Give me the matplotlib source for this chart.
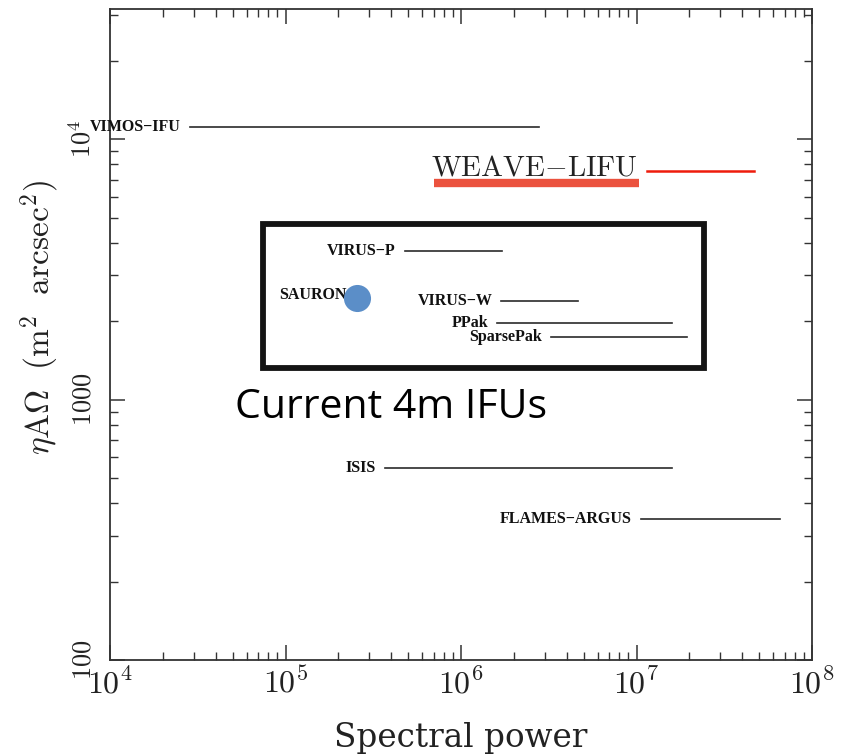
import matplotlib
matplotlib.use('Agg')
import matplotlib.pyplot as plt
from matplotlib.patches import Rectangle

plt.rcParams['mathtext.fontset'] = 'cm'

# instruments: name, spectral power range, etendue
names = ['VIMOS\u2212IFU', 'VIRUS\u2212P', 'VIRUS\u2212W', 'PPak', 'SparsePak', 'ISIS', 'FLAMES\u2212ARGUS']
r_min = [2.85e4, 4.77e5, 1.70e6, 1.61e6, 3.27e6, 3.7e5, 1.06e7]
r_max = [2.8e6, 1.72e6, 4.67e6, 1.6e7, 1.95e7, 1.6e7, 6.6e7]
etendue = [1.11e4, 3705, 2383, 1960, 1746, 547, 348]

sauron_r = 2.54e5
sauron_e = 2465

weave_r = [1.15e7, 4.7e7]
weave_e = 7530
weave_mark_r = [6.98e5, 1.04e7]
weave_mark_e = 6770

box_r = [7.43e4, 2.43e7]
box_e = [1328, 4710]

xticks = [1e4, 1e5, 1e6, 1e7, 1e8]
xlabels = [r'$10^{4}$', r'$10^{5}$', r'$10^{6}$', r'$10^{7}$', r'$10^{8}$']
yticks = [100, 1000, 1e4]
ylabels = [r'$100$', r'$1000$', r'$10^{4}$']

fig = plt.figure(figsize=(8.43, 7.55), dpi=100)
ax = fig.add_axes([110/843, 95/755, 702/843, 651/755])
ax.set_xscale('log')
ax.set_yscale('log')
ax.set_xlim(1e4, 1e8)
ax.set_ylim(100, 10**4.5)

lab_font = dict(family='Liberation Serif', weight='bold', size=11.5)
for n, a, b, e in zip(names, r_min, r_max, etendue):
    ax.plot([a, b], [e, e], color='#2a2a2a', lw=1.2, zorder=3)
    ax.annotate(n, xy=(a, e), xytext=(-6.5, 0), textcoords='offset points',
                ha='right', va='center', color='#111111', **lab_font)

# SAURON is a single point
ax.annotate('SAURON', xy=(sauron_r, sauron_e), xytext=(-7, 2), textcoords='offset points',
            ha='right', va='center', color='#111111', zorder=4, **lab_font)
ax.plot([sauron_r], [sauron_e], 'o', ms=19.5, color='#5b8ec8', mec='none', zorder=5)

# WEAVE
ax.plot(weave_mark_r, [weave_mark_e]*2, color='#e8341c', lw=6, alpha=0.85,
        solid_capstyle='butt', zorder=2)
ax.plot(weave_r, [weave_e]*2, color='#ee1c0c', lw=1.8, zorder=3)
ax.annotate(r'$\mathrm{WEAVE}{-}\mathrm{LIFU}$', xy=(weave_r[0], weave_e), xytext=(-7, -3),
            textcoords='offset points', ha='right', va='baseline', fontsize=21,
            color='#222222', zorder=4)

rect = Rectangle((box_r[0], box_e[0]), box_r[1]-box_r[0], box_e[1]-box_e[0],
                 fill=False, ec='#141414', lw=4.2, zorder=2)
ax.add_patch(rect)

ax.text(0.178, 0.372, 'Current 4m IFUs', transform=ax.transAxes, ha='left', va='baseline',
        fontsize=29.5, family='Open Sans', color='black')

ax.tick_params(which='both', direction='in', top=True, right=True, color='#333333')
ax.tick_params(which='major', length=11, width=1.1)
ax.tick_params(which='minor', length=5.5, width=1.0)
ax.set_xticks(xticks)
ax.set_xticklabels(xlabels, fontsize=23, color='#222222')
ax.tick_params(axis='x', which='major', pad=6)
ax.set_yticks(yticks)
ax.set_yticklabels(ylabels, rotation=90, va='center', fontsize=19, color='#222222')
ax.tick_params(axis='y', which='major', pad=10)
for s in ax.spines.values():
    s.set_color('#333333')
    s.set_linewidth(1.3)

fig.text(461/843, 1-738/755, 'Spectral power', ha='center', va='center',
         fontsize=23.5, family='DejaVu Serif', color='#222222')
fig.text(40/843, 1-318/755, r'$\eta\mathrm{A}\Omega\ \ (\mathrm{m}^2\ \ \mathrm{arcsec}^2)$',
         ha='center', va='center', rotation=90, fontsize=24, color='#222222')

fig.savefig('out.png', dpi=100)
